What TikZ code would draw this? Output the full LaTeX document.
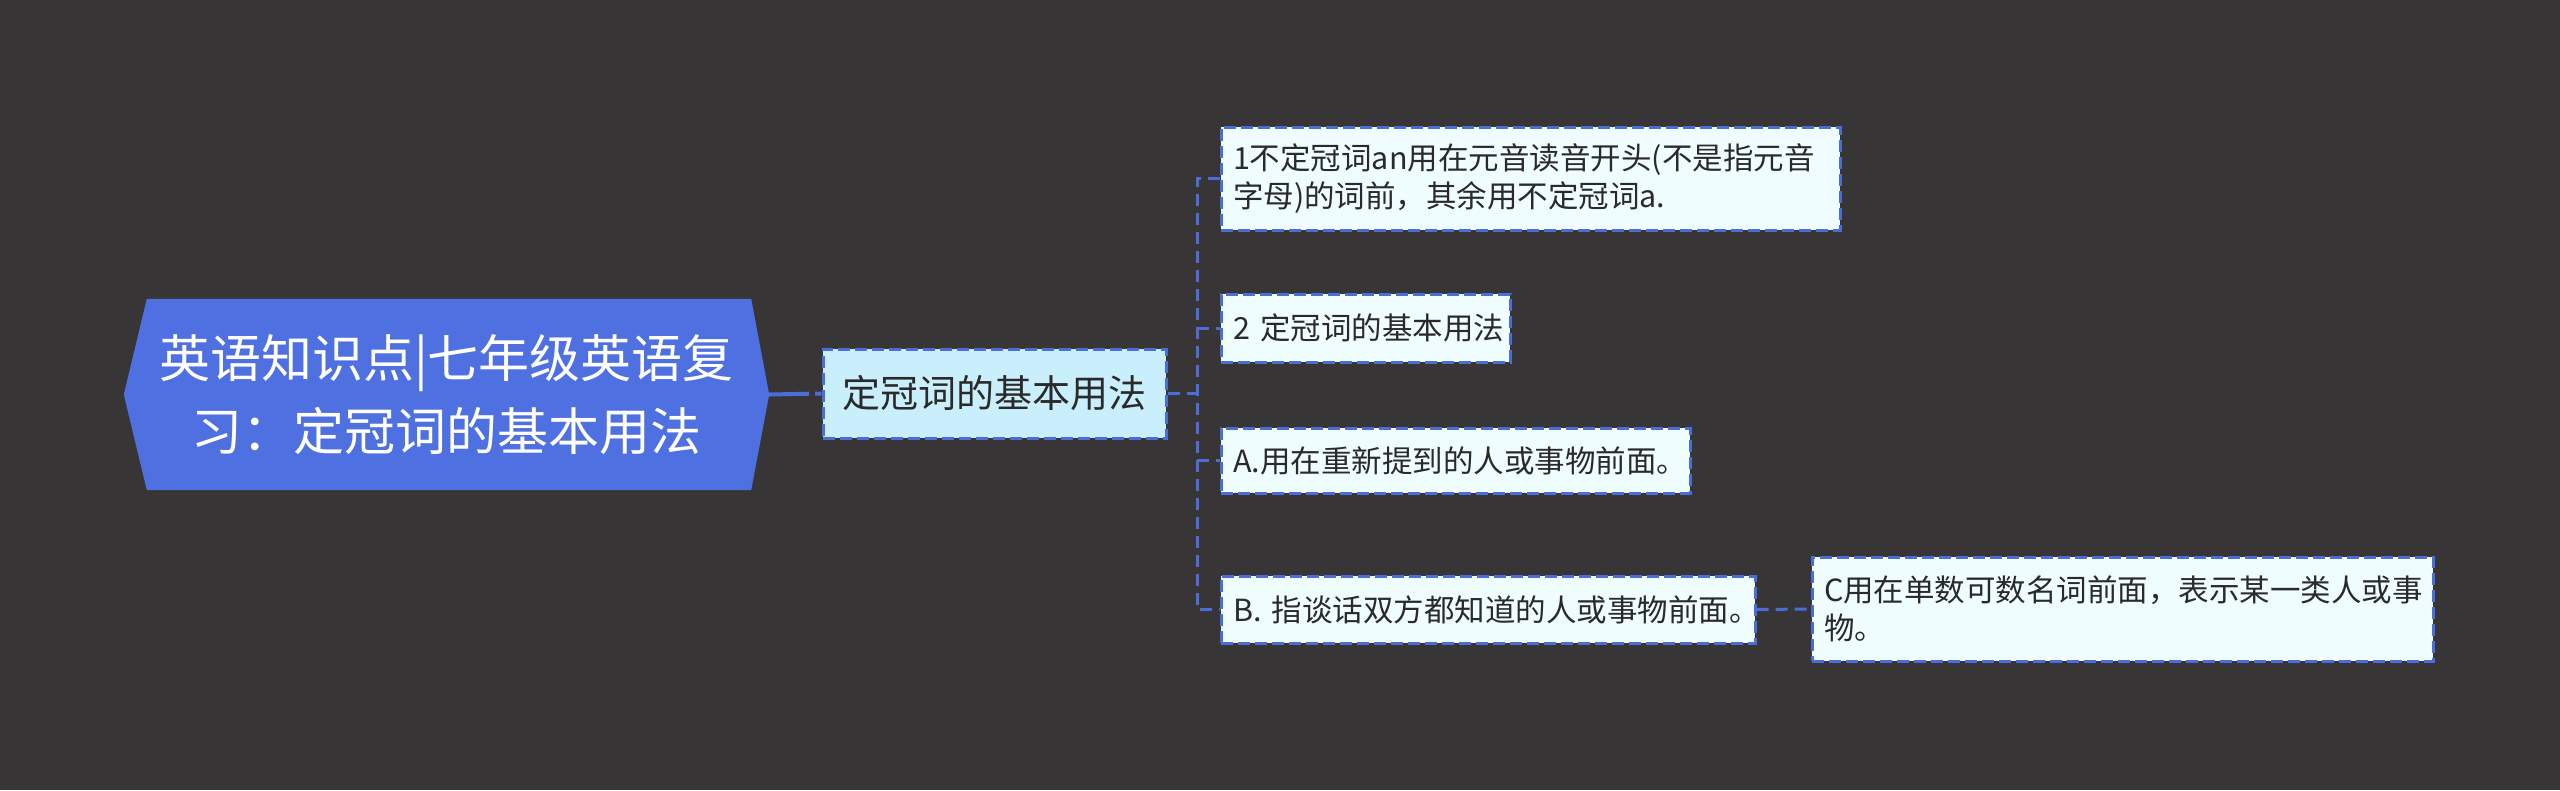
\documentclass[tikz,border=0pt]{standalone}
\usepackage{fontspec}
\setmainfont{Noto Sans CJK SC}
\usetikzlibrary{backgrounds}
\definecolor{bgc}{HTML}{373536}
\definecolor{rootblue}{HTML}{4F70E0}
\definecolor{lineblue}{HTML}{4A6DD8}
\definecolor{mainfill}{HTML}{C9EFFD}
\definecolor{leaffill}{HTML}{F0FDFE}
\definecolor{txt}{HTML}{2A2A2A}
\begin{document}
\begin{tikzpicture}[x=1pt,y=-1pt,
  leafbox/.style={draw=lineblue, line width=3pt, dash pattern=on 12pt off 5pt,
    fill=leaffill, text=txt, font=\fontsize{30.5}{38.5}\selectfont, align=left,
    inner xsep=12pt, inner ysep=0pt, anchor=center},
  mainbox/.style={draw=lineblue, line width=3pt, dash pattern=on 12pt off 5pt,
    fill=mainfill, text=txt, font=\fontsize{38}{45}\selectfont, align=center,
    inner sep=0pt, minimum width=343pt, minimum height=89pt},
  rootbox/.style={text=white, font=\fontsize{51}{73}\selectfont, align=center,
    inner sep=0pt, minimum width=645pt, minimum height=191pt},
  conn/.style={draw=lineblue, line width=3pt, dash pattern=on 12pt off 7pt},
  rootconn/.style={draw=lineblue, line width=4pt, dash pattern=on 40pt off 6pt}]
\begin{scope}[on background layer]
\fill[bgc] (0,0) rectangle (2560,790);
\end{scope}
\useasboundingbox (0,0) rectangle (2560,790);

\node[rootbox] (root) at (446.5,394.5) {英语知识点|七年级英语复\\习：定冠词的基本用法};
\begin{scope}[on background layer]
\fill[rootblue] (root.west) -- ([xshift=23pt]root.north west) -- ([xshift=-18pt]root.north east)
  -- (root.east) -- ([xshift=-18pt]root.south east) -- ([xshift=23pt]root.south west) -- cycle;
\end{scope}

\node[mainbox] (main) at (994.5,393.5) {定冠词的基本用法};

\node[leafbox, text width=595pt, minimum height=103pt] (l1) at (1530.5,178.5)
  {1不定冠词an用在元音读音开头(不是指元音\\字母)的词前，其余用不定冠词a.};
\node[leafbox, text width=265pt, minimum height=68pt] (l2) at (1365.5,328)
  {2~定冠词的基本用法};
\node[leafbox, text width=445pt, minimum height=65pt] (l3) at (1455.5,460.5)
  {A.用在重新提到的人或事物前面。};
\node[leafbox, text width=510pt, minimum height=67pt] (l4) at (1488,609.5)
  {B.~指谈话双方都知道的人或事物前面。};
\node[leafbox, text width=597pt, minimum height=104pt] (l5) at (2122.5,609)
  {C用在单数可数名词前面，表示某一类人或事\\物。};

\coordinate (br) at (1197,393.5);
\draw[rootconn] (root.east) -- (main.west);
\draw[conn] (main.east) -- (br);
\draw[conn] (l1.west) -| (br) |- (l4.west);
\draw[conn] (br |- l2.west) -- (l2.west);
\draw[conn] (br |- l3.west) -- (l3.west);
\draw[conn] (l4.east) -- (l5.west);
\end{tikzpicture}
\end{document}
